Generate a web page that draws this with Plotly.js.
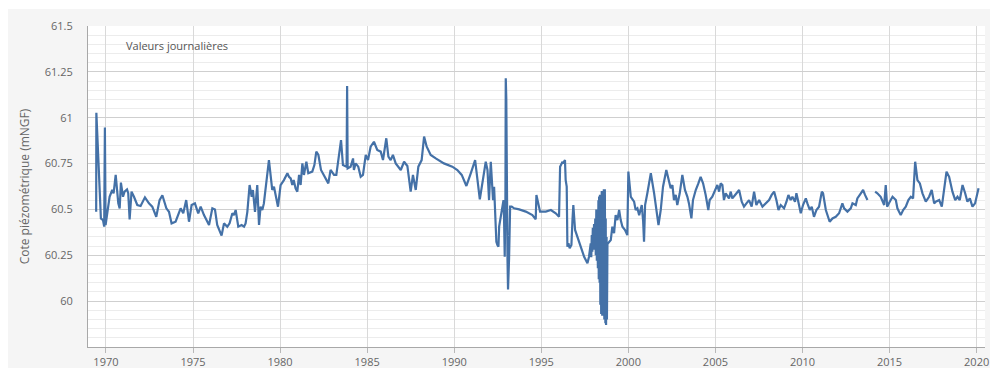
<!DOCTYPE html>
<html>
<head>
<meta charset="utf-8">
<script src="https://cdn.plot.ly/plotly-3.0.1.min.js"></script>
<style>
html,body{margin:0;padding:0;background:#ffffff;width:990px;height:368px;overflow:hidden;}
#chart{position:absolute;left:8px;top:9px;width:982px;height:359px;}
</style>
</head>
<body>
<div id="chart"></div>
<script>
// Decimal years of each reading
const years = [
1969.44,1969.45,1969.71,1969.83,1969.90,1969.94,1969.98,1970.21,1970.36,1970.44,1970.56,1970.71,1970.79,1970.86,1970.98,
1971.07,1971.21,1971.28,1971.36,1971.47,1971.61,1971.80,1971.99,1972.24,1972.47,1972.66,1972.89,1973.08,1973.24,1973.47,
1973.62,1973.77,1974.00,1974.15,1974.29,1974.44,1974.61,1974.77,1974.92,1975.11,1975.30,1975.44,1975.63,1975.92,1976.11,
1976.26,1976.39,1976.64,1976.78,1976.97,1977.10,1977.26,1977.35,1977.45,1977.60,1977.79,1977.93,1978.02,1978.12,1978.25,
1978.37,1978.44,1978.56,1978.69,1978.79,1978.88,1978.98,1979.07,1979.17,1979.36,1979.55,1979.65,1979.88,1980.03,1980.22,
1980.42,1980.51,1980.61,1980.70,1980.78,1980.89,1980.99,1981.09,1981.18,1981.28,1981.37,1981.51,1981.62,1981.85,1981.97,
1982.08,1982.20,1982.35,1982.52,1982.77,1982.90,1983.10,1983.23,1983.34,1983.50,1983.61,1983.73,1983.82,1983.85,1983.88,
1984.05,1984.19,1984.24,1984.34,1984.49,1984.63,1984.76,1984.92,1985.05,1985.20,1985.39,1985.58,1985.78,1985.91,1986.10,
1986.22,1986.35,1986.48,1986.64,1986.93,1987.12,1987.31,1987.50,1987.63,1987.79,1987.94,1988.13,1988.27,1988.42,1988.65,
1988.94,1989.41,1989.89,1990.18,1990.43,1990.70,1990.95,1991.20,1991.47,1991.81,1991.91,1992.00,1992.10,1992.16,1992.23,
1992.29,1992.35,1992.42,1992.48,1992.54,1992.58,1992.67,1992.77,1992.83,1992.86,1992.90,1992.94,1992.96,1992.99,1993.06,
1993.09,1993.15,1993.21,1993.30,1993.44,1993.73,1994.11,1994.49,1994.68,1994.72,1994.78,1994.84,1994.93,1995.26,1995.55,
1995.83,1996.02,1996.08,1996.22,1996.25,1996.31,1996.36,1996.40,1996.46,1996.50,1996.56,1996.63,1996.73,1996.79,1996.84,
1996.94,1997.07,1997.26,1997.46,1997.65,1997.74,1997.84,1997.87,1997.90,1997.93,1997.96,1998.00,1998.03,1998.06,1998.10,
1998.13,1998.16,1998.19,1998.22,1998.25,1998.28,1998.30,1998.32,1998.35,1998.37,1998.39,1998.41,1998.44,1998.47,1998.50,
1998.53,1998.56,1998.59,1998.62,1998.65,1998.68,1998.70,1998.72,1998.75,1998.77,1998.80,1998.83,1998.99,1999.08,1999.18,
1999.27,1999.37,1999.47,1999.56,1999.66,1999.81,1999.94,2000.00,2000.14,2000.33,2000.42,2000.52,2000.62,2000.77,2000.85,
2000.90,2000.96,2001.09,2001.29,2001.48,2001.57,2001.73,2001.86,2001.99,2002.18,2002.33,2002.43,2002.53,2002.62,2002.72,
2002.81,2002.95,2003.10,2003.25,2003.39,2003.48,2003.62,2003.71,2003.87,2004.02,2004.15,2004.29,2004.44,2004.59,2004.67,
2004.82,2004.98,2005.11,2005.21,2005.30,2005.40,2005.49,2005.59,2005.78,2005.88,2005.97,2006.13,2006.26,2006.36,2006.51,
2006.64,2006.78,2006.93,2007.08,2007.22,2007.35,2007.51,2007.70,2007.89,2008.08,2008.23,2008.37,2008.50,2008.62,2008.75,
2008.94,2009.08,2009.19,2009.32,2009.42,2009.57,2009.65,2009.76,2009.90,2010.03,2010.19,2010.28,2010.42,2010.53,2010.66,
2010.80,2010.95,2011.11,2011.18,2011.34,2011.43,2011.56,2011.72,2011.91,2012.10,2012.29,2012.39,2012.58,2012.77,2012.87,
2013.06,2013.15,2013.35,2013.48,2013.59,2013.73,2013.95,2014.17,2014.30,2014.49,2014.69,2014.78,2014.86,2015.01,2015.17,
2015.36,2015.45,2015.64,2015.78,2015.93,2016.08,2016.22,2016.35,2016.47,2016.60,2016.74,2016.89,2017.08,2017.27,2017.42,
2017.56,2017.65,2017.85,2018.00,2018.13,2018.27,2018.42,2018.61,2018.77,2018.90,2019.03,2019.19,2019.34,2019.47,2019.61,
2019.76,2019.91,2020.05,2020.11
];

// Daily water level (mNGF); null = missing data
const levels = [
60.487,61.027,60.451,60.442,60.406,60.947,60.415,60.569,60.606,60.588,60.688,60.533,60.506,60.646,60.569,
60.597,60.609,60.588,60.446,60.597,60.569,60.524,60.519,60.566,60.533,60.515,60.460,60.551,60.577,60.506,
60.487,60.424,60.433,60.469,60.506,60.479,60.551,60.433,60.524,60.533,60.479,60.515,60.469,60.415,60.506,
60.500,60.415,60.357,60.424,60.406,60.424,60.479,60.469,60.497,60.406,60.415,60.406,60.424,60.487,60.633,
60.569,60.606,60.487,60.633,60.415,60.515,60.497,60.533,60.606,60.769,60.606,60.624,60.515,60.633,60.660,
60.697,60.678,60.669,60.633,60.660,60.615,60.597,60.688,60.633,60.751,60.688,60.760,60.697,60.706,60.742,
60.815,60.797,60.715,60.688,60.642,60.715,60.688,60.688,60.760,60.878,60.742,60.737,60.733,61.173,60.724,
60.733,60.778,60.715,60.751,60.733,60.678,60.688,60.797,60.769,60.842,60.869,60.824,60.815,60.769,60.888,
60.788,60.769,60.797,60.751,60.715,60.760,60.737,60.597,60.688,60.606,60.733,60.769,60.897,60.842,60.797,
60.778,60.751,60.733,60.715,60.688,60.628,60.697,60.769,60.555,60.760,60.715,60.551,60.760,60.660,60.551,
60.624,60.460,60.324,60.306,60.297,60.406,60.460,60.515,60.551,60.460,60.242,60.551,61.215,61.106,60.224,
60.064,60.233,60.515,60.515,60.506,60.500,60.488,60.469,60.446,60.579,60.551,60.533,60.488,60.488,60.497,
60.479,60.460,60.733,60.760,60.751,60.760,60.769,60.660,60.624,60.297,60.315,60.288,60.306,60.442,60.524,
60.388,60.351,60.297,60.242,60.206,60.242,60.315,60.240,60.360,60.270,60.400,60.300,60.420,60.280,60.450,
60.250,60.500,60.220,60.450,60.180,60.550,60.120,60.570,60.100,60.580,59.980,60.580,59.930,60.600,59.920,
60.600,59.930,60.610,59.900,60.610,59.880,60.450,59.870,60.350,59.900,60.320,60.315,60.333,60.406,60.370,
60.469,60.442,60.497,60.442,60.406,60.388,60.360,60.706,60.569,60.542,60.497,60.506,60.469,60.524,60.433,
60.324,60.524,60.588,60.697,60.588,60.524,60.415,60.497,60.624,60.715,60.660,60.615,60.633,60.551,60.579,
60.524,60.588,60.688,60.606,60.569,60.533,60.451,60.551,60.606,60.642,60.678,60.642,60.579,60.497,60.551,
60.569,60.606,60.633,60.597,60.642,60.633,60.551,60.588,60.560,60.597,60.560,60.579,60.597,60.606,60.542,
60.515,60.533,60.551,60.515,60.597,60.524,60.551,60.515,60.533,60.551,60.579,60.597,60.551,60.497,60.524,
60.506,60.542,60.579,60.551,60.569,60.542,60.588,60.542,60.479,60.524,60.560,60.533,60.497,60.515,60.460,
60.497,60.515,60.597,60.588,60.497,60.469,60.433,60.451,60.460,60.479,60.533,60.506,60.488,60.506,60.533,
60.524,60.560,60.588,60.606,60.579,60.551,null,60.597,60.588,60.569,60.524,60.633,60.515,60.542,60.569,
60.551,60.506,60.469,60.497,60.515,60.551,60.569,60.560,60.760,60.660,60.642,60.588,60.542,60.569,60.606,
60.533,60.542,60.551,60.515,60.624,60.706,60.678,60.597,60.551,60.569,60.551,60.633,60.588,60.542,60.560,
60.515,60.533,60.606,60.615
];

const xTickVals = [1970,1975,1980,1985,1990,1995,2000,2005,2010,2015,2020];
const xTickText = ["1970","1975","1980","1985","1990","1995","2000","2005","2010","2015","2020"];
const yTickVals = [60,60.25,60.5,60.75,61,61.25,61.5];
const yTickText = ["60","60.25","60.5","60.75","61","61.25","61.5"];
const yTitle = "Cote piézométrique (mNGF)";
const seriesLabel = "Valeurs journalières";

const trace = {
  x: years, y: levels, type: 'scatter', mode: 'lines',
  connectgaps: false,
  line: {color: '#4471a7', width: 2.2},
  hoverinfo: 'skip', showlegend: false
};

const font = "'Open Sans', 'Noto Sans', sans-serif";
const layout = {
  width: 982, height: 359,
  margin: {l: 80, r: 5, t: 17, b: 21, pad: 0},
  paper_bgcolor: '#f5f5f5',
  plot_bgcolor: '#ffffff',
  font: {family: font, size: 11, color: '#666666'},
  showlegend: false,
  xaxis: {
    range: [1968.97, 2020.48],
    tickmode: 'array', tickvals: xTickVals, ticktext: xTickText,
    showgrid: true, gridcolor: '#d9d9d9', gridwidth: 1,
    zeroline: false,
    showline: true, linecolor: '#a8a8a8', linewidth: 1,
    ticks: 'outside', ticklen: 5, tickcolor: '#b8b8b8', tickwidth: 1,
    tickfont: {family: font, size: 11, color: '#666666'},
    automargin: false
  },
  yaxis: {
    range: [59.75, 61.5],
    tickmode: 'array', tickvals: yTickVals, ticktext: yTickText,
    showgrid: true, gridcolor: '#cfcfcf', gridwidth: 1,
    minor: {tickmode: 'linear', tick0: 59.75, dtick: 0.05, showgrid: true, gridcolor: '#ececec', gridwidth: 1, ticks: ''},
    zeroline: false,
    showline: true, linecolor: '#a8a8a8', linewidth: 1,
    ticks: '', ticklabelstandoff: 12,
    tickfont: {family: font, size: 11, color: '#666666'},
    title: {text: yTitle, font: {family: font, size: 12, color: '#666666'}, standoff: 12},
    automargin: false
  },
  annotations: [{
    text: seriesLabel, xref: 'paper', yref: 'paper',
    x: 0.04, y: 0.938, xanchor: 'left', yanchor: 'middle',
    showarrow: false, font: {family: font, size: 11, color: '#555555'}
  }]
};

Plotly.newPlot('chart', [trace], layout, {displayModeBar: false, staticPlot: true});
</script>
</body>
</html>
